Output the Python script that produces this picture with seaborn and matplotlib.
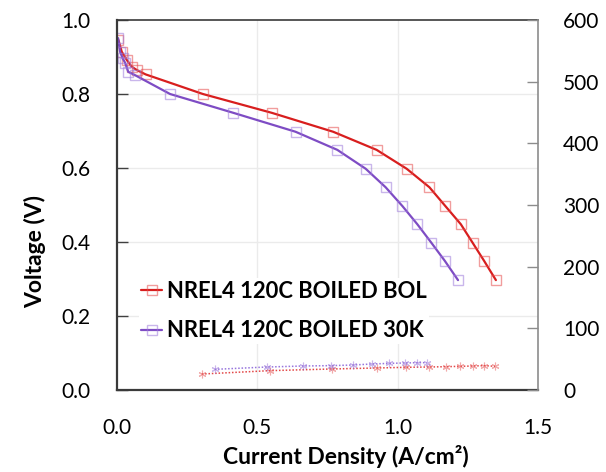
import matplotlib
matplotlib.use("Agg")
import matplotlib.pyplot as plt
import seaborn as sns
import pandas as pd

# ---- data ----
bol_current = [0.005, 0.017, 0.035, 0.052, 0.070, 0.102, 0.306, 0.552, 0.770, 0.925,
               1.032, 1.113, 1.170, 1.225, 1.267, 1.308, 1.350]
bol_voltage = [0.946, 0.914, 0.892, 0.874, 0.865, 0.853, 0.800, 0.749, 0.698, 0.649,
               0.598, 0.548, 0.497, 0.448, 0.398, 0.349, 0.297]
k30_current = [0.004, 0.011, 0.020, 0.029, 0.040, 0.064, 0.189, 0.415, 0.636, 0.785,
               0.886, 0.957, 1.017, 1.070, 1.120, 1.168, 1.215]
k30_voltage = [0.951, 0.914, 0.897, 0.884, 0.860, 0.851, 0.800, 0.749, 0.698, 0.649,
               0.598, 0.548, 0.497, 0.448, 0.398, 0.349, 0.297]

bol_hfr_current = [0.302, 0.546, 0.767, 0.925, 1.031, 1.112, 1.171, 1.222, 1.269, 1.308, 1.347]
bol_hfr = [25.9, 31.4, 34.1, 35.7, 36.8, 37.3, 37.8, 38.4, 38.9, 39.5, 38.4]
k30_hfr_current = [0.348, 0.535, 0.662, 0.761, 0.840, 0.910, 0.969, 1.025, 1.070, 1.104]
k30_hfr = [33.5, 37.3, 38.9, 39.5, 40.5, 42.2, 43.2, 43.8, 44.3, 44.3]

labels = ["NREL4 120C BOILED BOL", "NREL4 120C BOILED 30K"]
x_ticks = [0.0, 0.5, 1.0, 1.5]
y_ticks = [0.0, 0.2, 0.4, 0.6, 0.8, 1.0]
y2_ticks = [0, 100, 200, 300, 400, 500, 600]

RED = "#D81E1E"
RED_M = (0.90, 0.30, 0.30, 0.55)
PUR = "#7E4CC4"
PUR_M = (0.62, 0.48, 0.86, 0.55)

sns.set_theme(style="white")
plt.rcParams["font.family"] = ["Lato", "DejaVu Sans"]
plt.rcParams["text.color"] = "black"

fig = plt.figure(figsize=(6.06, 4.72), dpi=100)
ax = fig.add_axes([117 / 606, 1 - 390 / 472, (538 - 117) / 606, (390 - 20) / 472])
ax2 = ax.twinx()

df_bol = pd.DataFrame({"I": bol_current, "V": bol_voltage})
df_30k = pd.DataFrame({"I": k30_current, "V": k30_voltage})

sns.lineplot(data=df_bol, x="I", y="V", ax=ax, sort=False, estimator=None,
             color=RED, lw=1.6, marker="s", markersize=7, markerfacecolor="none",
             markeredgecolor=RED_M, markeredgewidth=1.0, label=labels[0])
sns.lineplot(data=df_30k, x="I", y="V", ax=ax, sort=False, estimator=None,
             color=PUR, lw=1.6, marker="s", markersize=7, markerfacecolor="none",
             markeredgecolor=PUR_M, markeredgewidth=1.0, label=labels[1])

df_bh = pd.DataFrame({"I": bol_hfr_current, "R": bol_hfr})
df_kh = pd.DataFrame({"I": k30_hfr_current, "R": k30_hfr})
sns.lineplot(data=df_bh, x="I", y="R", ax=ax2, sort=False, estimator=None,
             color=(0.88, 0.2, 0.2, 0.9), lw=1.1, linestyle=(0, (1, 1.2)),
             marker=(6, 2, 0), markersize=5.5, markeredgecolor=(0.9, 0.35, 0.35, 0.5),
             markeredgewidth=0.8, legend=False)
sns.lineplot(data=df_kh, x="I", y="R", ax=ax2, sort=False, estimator=None,
             color=(0.55, 0.4, 0.85, 0.9), lw=1.1, linestyle=(0, (1, 1.2)),
             marker=(6, 2, 0), markersize=5.5, markeredgecolor=(0.6, 0.45, 0.85, 0.5),
             markeredgewidth=0.8, legend=False)

ax.set_xlim(0, 1.5)
ax.set_ylim(0, 1.0)
ax2.set_ylim(0, 600)
ax.set_xticks(x_ticks)
ax.set_xticklabels([f"{t:.1f}" for t in x_ticks])
ax.set_yticks(y_ticks)
ax.set_yticklabels([f"{t:.1f}" for t in y_ticks])
ax2.set_yticks(y2_ticks)
ax2.set_yticklabels([str(t) for t in y2_ticks])

# grid
for gx in [0.5, 1.0]:
    ax.axvline(gx, color="#EBEBEB", lw=1.0, zorder=0)
for gy in [0.2, 0.4, 0.6, 0.8]:
    ax.axhline(gy, color="#EBEBEB", lw=1.0, zorder=0)

ax.tick_params(axis="both", direction="in", length=8, width=1.0, colors="#404040",
               labelcolor="black", labelsize=15)
ax.tick_params(axis="x", pad=20)
ax.tick_params(axis="y", pad=19, right=False)
ax2.tick_params(axis="y", direction="in", length=8, width=1.0, colors="#8C8C8C",
                labelcolor="black", labelsize=15, pad=18)

for s in ["left", "bottom"]:
    ax.spines[s].set_color("#3A3A3A")
    ax.spines[s].set_linewidth(1.6)
ax.spines["top"].set_color("#3A3A3A")
ax.spines["top"].set_linewidth(1.2)
ax2.spines["right"].set_color("#8C8C8C")
ax2.spines["right"].set_linewidth(1.2)
for s in ["left", "bottom", "top"]:
    ax2.spines[s].set_visible(False)
ax.spines["right"].set_visible(False)

ax.set_xlabel("")
ax.set_ylabel("")
ax2.set_ylabel("")
fig.text(346 / 606, 1 - 456 / 472, "Current Density (A/cm²)", ha="center", va="center",
         fontsize=16.5, fontweight="bold")
fig.text(35 / 606, 1 - 252 / 472, "Voltage (V)", ha="center", va="center",
         rotation=90, fontsize=16.5, fontweight="bold")

handles, labs = ax.get_legend_handles_labels()
leg = ax.legend(handles, labs, loc="center left",
                bbox_to_anchor=((139 - 117) / 421, (390 - 311) / 370),
                frameon=True, framealpha=1, facecolor="white", edgecolor="white",
                prop={"weight": "bold", "size": 15.8}, handlelength=0.95,
                handletextpad=0.22, labelspacing=0.85, borderaxespad=0, borderpad=0.1,
                numpoints=1)
leg.get_frame().set_linewidth(0)
for t in leg.get_texts():
    t.set_color("black")

fig.savefig("out.png", dpi=100)
